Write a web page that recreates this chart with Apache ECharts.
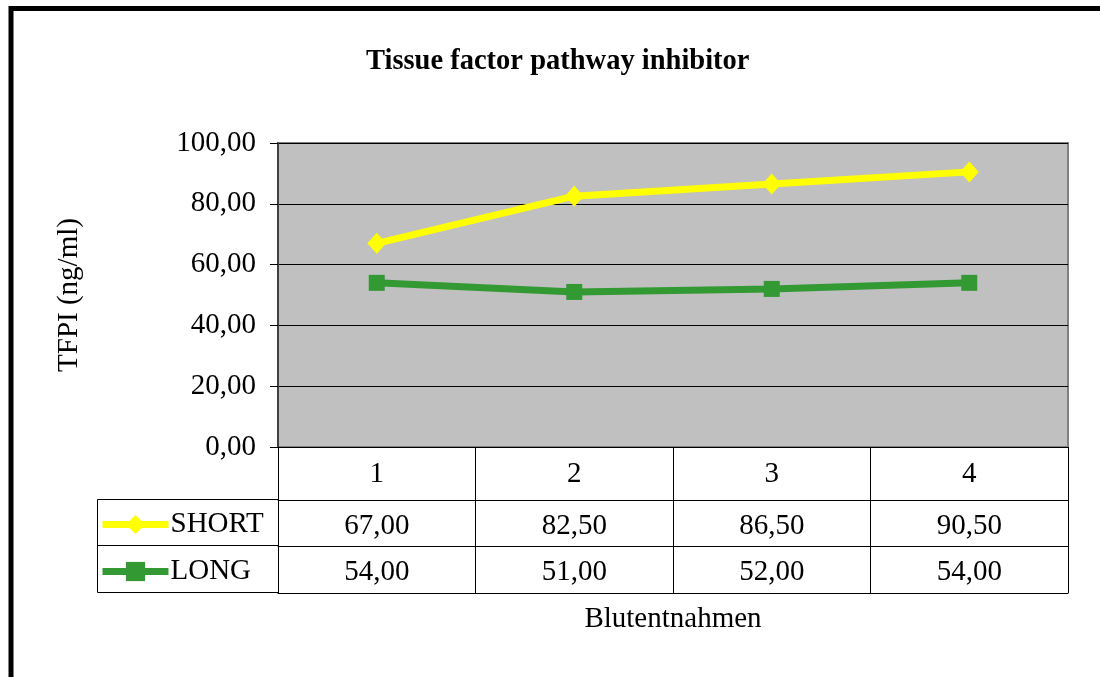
<!DOCTYPE html>
<html>
<head>
<meta charset="utf-8">
<script src="https://cdn.jsdelivr.net/npm/echarts@6/dist/echarts.min.js"></script>
<style>html,body{margin:0;padding:0;background:#fff;}#chart{width:1100px;height:677px;}</style>
</head>
<body>
<div id="chart"></div>
<script>
const categories = ['1', '2', '3', '4'];
const shortValues = [67.0, 82.5, 86.5, 90.5];
const longValues = [54.0, 51.0, 52.0, 54.0];
const seriesNames = ['SHORT', 'LONG'];
const yMin = 0, yMax = 100, yInterval = 20;
const titleText = 'Tissue factor pathway inhibitor';
const yName = 'TFPI (ng/ml)';
const xName = 'Blutentnahmen';

const FONT = '"Liberation Serif", "Times New Roman", serif';
const FS = 29;
const fmt = v => v.toFixed(2).replace('.', ',');

const chart = echarts.init(document.getElementById('chart'));
const option = {
  animation: false,
  backgroundColor: '#ffffff',
  title: {
    text: titleText, left: 366, top: 47, padding: 0,
    textStyle: { fontFamily: FONT, fontSize: 28.5, fontWeight: 'bold', color: '#000' }
  },
  grid: {
    left: 278, right: 32, top: 143, bottom: 230,
    show: true, backgroundColor: '#c0c0c0', borderColor: '#808080', borderWidth: 2
  },
  legend: [
    {
      data: [seriesNames[0]], left: 99, top: 509, padding: 0, itemWidth: 66, itemHeight: 24, itemGap: 0,
      lineStyle: { width: 7 },
      textStyle: { fontFamily: FONT, fontSize: FS, color: '#000', lineHeight: 29, padding: [2, 0, 0, -3] }
    },
    {
      data: [seriesNames[1]], left: 99, top: 556, padding: 0, itemWidth: 66, itemHeight: 24, itemGap: 0,
      lineStyle: { width: 7 },
      textStyle: { fontFamily: FONT, fontSize: FS, color: '#000', lineHeight: 29, padding: [2, 0, 0, -3] }
    }
  ],
  xAxis: [
    {
      type: 'category', data: categories, position: 'bottom',
      axisLine: { lineStyle: { color: '#000', width: 1 } },
      axisTick: { show: true, length: 146, lineStyle: { color: '#000', width: 1 } },
      axisLabel: { fontFamily: FONT, fontSize: FS, color: '#000', margin: 13 },
      splitLine: { show: false }
    },
    {
      type: 'category', data: categories, position: 'bottom', offset: 53,
      axisLine: { lineStyle: { color: '#000', width: 1 } },
      axisTick: { show: false },
      axisLabel: { fontFamily: FONT, fontSize: FS, color: '#000', margin: 12,
        formatter: (v, i) => fmt(shortValues[i]) }
    },
    {
      type: 'category', data: categories, position: 'bottom', offset: 99,
      axisLine: { lineStyle: { color: '#000', width: 1 } },
      axisTick: { show: false },
      axisLabel: { fontFamily: FONT, fontSize: FS, color: '#000', margin: 12,
        formatter: (v, i) => fmt(longValues[i]) }
    },
    {
      type: 'category', data: categories, position: 'bottom', offset: 146,
      axisLine: { lineStyle: { color: '#000', width: 1 } },
      axisTick: { show: false },
      axisLabel: { show: false },
      name: xName, nameLocation: 'middle', nameGap: 12,
      nameTextStyle: { fontFamily: FONT, fontSize: FS, color: '#000' }
    }
  ],
  yAxis: {
    type: 'value', min: yMin, max: yMax, interval: yInterval,
    axisLine: { show: true, lineStyle: { color: '#404040', width: 2 } },
    axisTick: { show: true, length: 8, lineStyle: { color: '#000', width: 1 } },
    axisLabel: { fontFamily: FONT, fontSize: FS, color: '#000', margin: 22, formatter: v => fmt(v) },
    splitLine: { show: true, lineStyle: { color: '#000', width: 1 } },
    name: yName, nameLocation: 'middle', nameRotate: 90, nameGap: 194,
    nameTextStyle: { fontFamily: FONT, fontSize: FS, color: '#000' }
  },
  series: [
    {
      name: seriesNames[1], type: 'line', data: longValues,
      symbol: 'rect', symbolSize: 16,
      lineStyle: { color: '#339933', width: 7 },
      itemStyle: { color: '#339933' }
    },
    {
      name: seriesNames[0], type: 'line', data: shortValues,
      symbol: 'diamond', symbolSize: [19, 21],
      lineStyle: { color: '#ffff00', width: 7 },
      itemStyle: { color: '#ffff00' }
    }
  ],
  graphic: [
    {
      type: 'rect', silent: true,
      shape: { x: 11, y: 8.5, width: 1300, height: 900 },
      style: { fill: 'none', stroke: '#000', lineWidth: 5 }
    },
    {
      type: 'rect', silent: true,
      shape: { x: 97.5, y: 499.5, width: 181, height: 93 },
      style: { fill: 'none', stroke: '#000', lineWidth: 1 }
    },
    {
      type: 'line', silent: true,
      shape: { x1: 97.5, y1: 545.5, x2: 278, y2: 545.5 },
      style: { stroke: '#000', lineWidth: 1 }
    }
  ]
};
chart.setOption(option);
</script>
</body>
</html>
